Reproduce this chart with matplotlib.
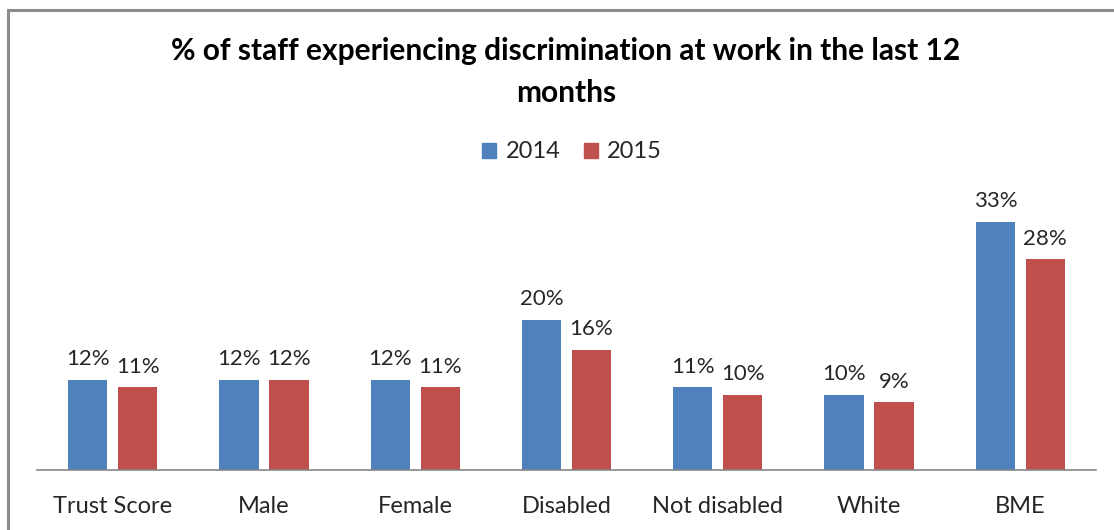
import matplotlib
matplotlib.use("Agg")
import matplotlib.pyplot as plt
from matplotlib.patches import Rectangle, Patch
import numpy as np

categories = ["Trust Score", "Male", "Female", "Disabled", "Not disabled", "White", "BME"]
series_names = ["2014", "2015"]
values_2014 = [12, 12, 12, 20, 11, 10, 33]
values_2015 = [11, 12, 11, 16, 10, 9, 28]
colors = ["#4F81BD", "#C0504D"]

plt.rcParams['font.family'] = ['Lato', 'DejaVu Sans']
W, H = 1114, 530
fig = plt.figure(figsize=(W / 100, H / 100), dpi=100)

# outer border (only top/left visible in reference)
fig.patches.append(Rectangle((8 / W, -0.1), 1.2, (520 / H) + 0.1, transform=fig.transFigure,
                             fill=False, edgecolor="#8c8c8c", linewidth=2.2))

ymax = 35
px_per_unit = 7.52
ax = fig.add_axes([37 / W, 60 / H, (1096 - 37) / W, ymax * px_per_unit / H])
x = np.arange(len(categories))
bw = 0.26
off = 0.165
text_color = "#262626"
for vals, c, o, name in [(values_2014, colors[0], -off, series_names[0]),
                         (values_2015, colors[1], off, series_names[1])]:
    bars = ax.bar(x + o, vals, width=bw, color=c, label=name, zorder=2)
    for b, v in zip(bars, vals):
        ax.text(b.get_x() + b.get_width() / 2, v + 1.4, f"{v}%", ha="center", va="bottom",
                fontsize=16, color=text_color)

ax.set_xlim(-0.5, len(categories) - 0.5)
ax.set_ylim(0, ymax)
ax.set_yticks([])
ax.set_xticks(x)
ax.set_xticklabels(categories, fontsize=17, color=text_color)
ax.tick_params(axis="x", length=0, pad=19)
for s in ["top", "right", "left"]:
    ax.spines[s].set_visible(False)
ax.spines["bottom"].set_color("#868686")
ax.spines["bottom"].set_linewidth(1.2)
ax.patch.set_alpha(0)

fig.text(566 / W, 1 - 72 / H, "% of staff experiencing discrimination at work in the last 12\nmonths",
         ha="center", va="center", fontsize=21.5, fontweight="bold", color="black", linespacing=1.6)

handles = [Patch(color=colors[0], label=series_names[0]), Patch(color=colors[1], label=series_names[1])]
fig.legend(handles=handles, loc="center", bbox_to_anchor=(572 / W, 1 - 152 / H), ncol=2,
           frameon=False, fontsize=17, handlelength=0.6, handleheight=0.6,
           handletextpad=0.4, columnspacing=1.0, labelcolor=text_color)

fig.savefig("out.png", dpi=100)
